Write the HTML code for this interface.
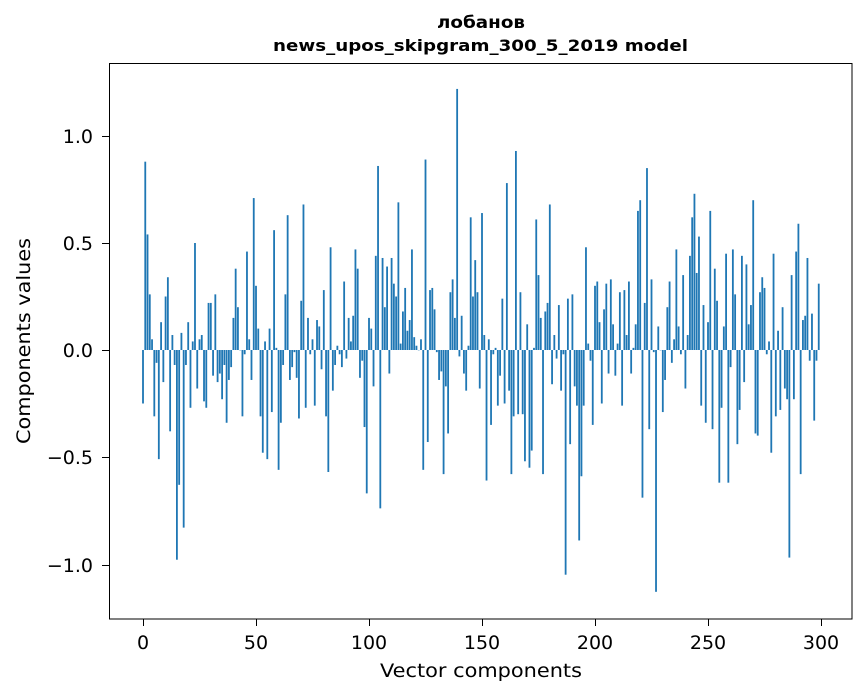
<!DOCTYPE html>
<html><head><meta charset="utf-8">
<style>
html,body{margin:0;padding:0;background:#fff;}
svg{display:block;font-family:"DejaVu Sans","Liberation Sans",sans-serif;}
</style></head>
<body>
<svg id="s" width="867" height="696" xmlns="http://www.w3.org/2000/svg">
<rect width="867" height="696" fill="#fff"/>
<g id="bars"></g>
<rect x="109.5" y="63.5" width="742.5" height="555.5" fill="none" stroke="#000" stroke-width="1"/>
<g id="ticks" stroke="#000" stroke-width="1"></g>
<g font-size="19" fill="#000" text-anchor="middle">
<text x="143" y="649">0</text><text x="256" y="649">50</text><text x="369" y="649">100</text>
<text x="482" y="649">150</text><text x="595" y="649">200</text><text x="708" y="649">250</text><text x="821" y="649">300</text>
</g>
<g font-size="19" fill="#000" text-anchor="end">
<text x="93" y="143">1.0</text><text x="93" y="250">0.5</text><text x="93" y="357">0.0</text>
<text x="93" y="464">−0.5</text><text x="93" y="572">−1.0</text>
</g>
<text x="380" y="677" font-size="19" textLength="202" lengthAdjust="spacingAndGlyphs">Vector components</text>
<text x="0" y="0" font-size="19" textLength="206" lengthAdjust="spacingAndGlyphs" transform="translate(30 444) rotate(-90)">Components values</text>
<text x="437" y="28" font-size="17" font-weight="bold" textLength="88" lengthAdjust="spacingAndGlyphs">лобанов</text>
<text x="273" y="51" font-size="16" font-weight="bold" textLength="415" lengthAdjust="spacingAndGlyphs">news_upos_skipgram_300_5_2019 model</text>
</svg>
<script>
var v=[-0.25,0.88,0.54,0.26,0.05,-0.31,-0.06,-0.51,0.13,-0.15,
0.25,0.34,-0.38,0.07,-0.07,-0.98,-0.63,0.08,-0.83,-0.07,
0.13,-0.27,0.04,0.50,-0.18,0.05,0.07,-0.24,-0.27,0.22,
0.22,-0.12,0.26,-0.15,-0.11,-0.23,-0.07,-0.34,-0.14,-0.08,
0.15,0.38,0.20,0,-0.31,-0.02,0.46,0.05,-0.14,0.71,
0.30,0.10,-0.31,-0.48,0.04,-0.51,0.10,-0.29,0.56,0.01,
-0.56,-0.34,-0.07,0.26,0.63,-0.14,-0.08,-0.01,-0.13,-0.32,
0.23,0.68,-0.27,0.15,-0.02,0.05,
-0.26,0.14,0.11,-0.09,0.28,-0.31,-0.57,0.48,-0.19,-0.07,
0.02,-0.02,-0.08,0.32,-0.04,0.15,0.04,0.16,0.47,0.38,
-0.13,-0.05,-0.36,-0.67,0.15,0.10,-0.17,0.44,0.86,-0.74,
0.43,0.20,0.39,-0.11,0.43,0.31,0.25,0.69,0.03,0.18,
0.29,0.09,0.14,0.47,0.06,0.02,0,0.05,-0.56,0.89,
-0.43,0.28,0.29,0.19,-0.01,-0.14,-0.10,-0.58,-0.17,-0.39,
0.27,0.33,0.15,1.22,-0.03,0.16,-0.11,-0.19,0.02,0.62,
0.25,0.42,0.27,-0.18,0.64,
0.07,-0.61,0.05,-0.35,-0.02,0.01,-0.26,-0.12,0.24,-0.25,
0.78,-0.19,-0.58,-0.31,0.93,-0.30,0.27,-0.30,-0.52,0.12,
-0.55,-0.47,0.01,0.61,0.35,0.15,-0.58,0.18,0.22,0.68,
-0.16,0.07,-0.04,0.21,-0.19,-0.02,-1.05,0.24,-0.44,0.26,
-0.17,-0.26,-0.89,-0.59,-0.26,0.48,0.03,-0.05,-0.35,0.30,
0.32,0.13,-0.25,0.19,0.31,-0.11,0.33,0.12,-0.12,0.03,
0.27,-0.26,0.28,0.07,0.32,-0.11,0.01,0.12,0.65,0.70,
-0.69,0.22,0.85,
-0.37,0.33,-0.01,-1.13,0.11,0,-0.29,-0.14,0.20,0.32,
-0.06,0.05,0.47,0.11,-0.02,0.35,-0.18,0.07,0.44,0.62,
0.73,0.36,0.53,-0.26,0.21,-0.34,0.13,0.65,-0.37,0.38,
0.23,-0.62,-0.27,0.11,0.45,-0.62,-0.08,0.47,0.26,-0.44,
-0.28,0.44,-0.15,0.40,0.12,0.21,0.70,-0.39,-0.40,0.27,
0.34,0.29,-0.02,0.04,-0.48,0.45,-0.31,0.09,-0.28,0.20,
-0.18,-0.23,-0.97,0.35,-0.23,0.46,0.59,-0.58,0.14,0.16,
0.43,-0.05,0.17,-0.33,-0.05,0.31];
var NS="http://www.w3.org/2000/svg",g=document.getElementById("bars");
var x0=143,sx=2.26,y0=350,sy=214;
for(var i=0;i<v.length;i++){
 var r=document.createElementNS(NS,"rect");
 var h=Math.abs(v[i])*sy;
 r.setAttribute("x",(x0+sx*i-0.9).toFixed(2));
 r.setAttribute("width","1.81");
 r.setAttribute("y",(v[i]>=0?y0-h:y0).toFixed(2));
 r.setAttribute("height",Math.max(h,0.3).toFixed(2));
 r.setAttribute("fill","#1f77b4");
 g.appendChild(r);
}
var t=document.getElementById("ticks");
[143,256,369,482,595,708,821].forEach(function(x){
 var l=document.createElementNS(NS,"line");
 l.setAttribute("x1",x+0.5);l.setAttribute("x2",x+0.5);l.setAttribute("y1",619);l.setAttribute("y2",626);t.appendChild(l);});
[136,243,350,457,565].forEach(function(y){
 var l=document.createElementNS(NS,"line");
 l.setAttribute("x1",102);l.setAttribute("x2",109);l.setAttribute("y1",y+0.5);l.setAttribute("y2",y+0.5);t.appendChild(l);});
</script>
</body></html>
